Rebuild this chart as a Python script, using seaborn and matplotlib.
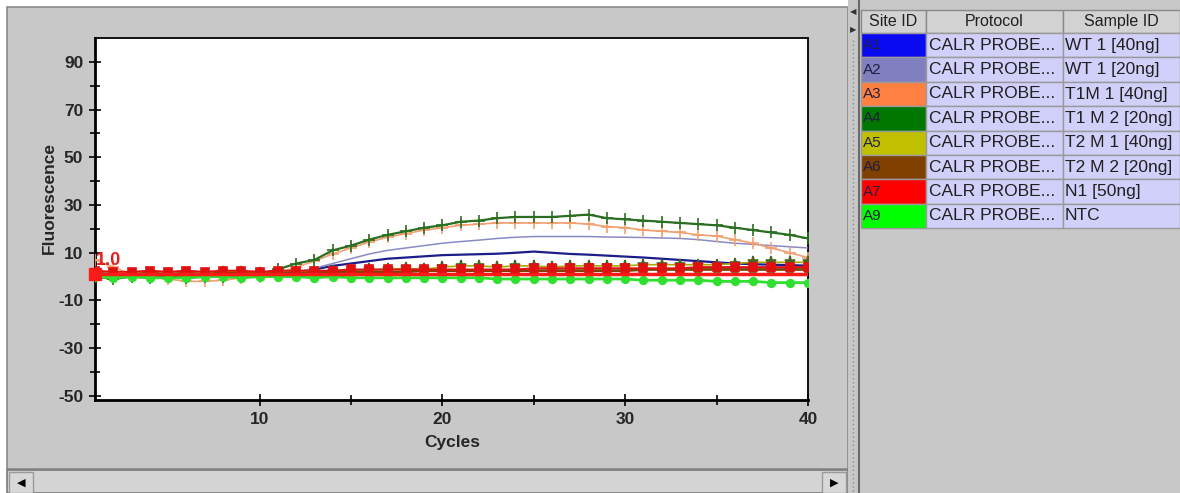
import numpy as np
import pandas as pd
import matplotlib
matplotlib.use("Agg")
import matplotlib.pyplot as plt
from matplotlib.patches import Rectangle
import seaborn as sns

sns.set_theme(style="white")
plt.rcParams['font.family'] = ['Liberation Sans', 'DejaVu Sans']
plt.rcParams['axes.unicode_minus'] = False

# ---------------- data ----------------
cycles = list(range(1, 41))

a1_wt40 = [0, 0, 0.5, 0, 0, 0, 0, 0, 0, 0.5, 0.5, 1, 3, 4.5, 5.5, 6.5, 7.5, 8, 8.5, 9,
           9.2, 9.4, 9.6, 10, 10.5, 10, 9.5, 9.2, 8.8, 8.4, 8, 7.5, 7, 6.5, 6, 5.5, 5.2, 5, 4.8, 4.6]
a2_wt20 = [0, 0, 0, 0, 0, 0, 0, 0, 0.5, 0.5, 1, 2, 3.5, 5.5, 7.5, 9.5, 11, 12, 13, 14,
           14.7, 15.3, 16, 16.5, 16.8, 16.8, 16.8, 16.8, 16.6, 16.5, 16.4, 16.2, 16, 15.5, 14.7, 14, 13.5, 13, 12.5, 12]
a3_t1m1 = [7, 4, 1, 0, -1, -2, -2, -1.5, -0.5, 0, 1.5, 4, 6.5, 9.5, 12, 14.5, 16.5, 18, 19.5, 20.5,
           21.5, 22, 22.5, 22.5, 22.5, 22.5, 22.5, 22, 21, 20.5, 19.5, 19, 18.5, 17.5, 17, 15.5, 14, 12, 10, 8]
a4_t1m2 = [0, -1, 0, -0.5, 0, -0.5, 0, 0, 0.5, 1, 3, 5.5, 7, 11, 13, 15.5, 17.5, 19, 20.5, 21.5,
           23, 23.5, 24.5, 25, 25, 25, 25.5, 26, 24.5, 24, 23.5, 23, 22.5, 22, 21.5, 20.5, 19.5, 18.5, 17.5, 16]
a5_t2m1 = [2, 0, 1, 1.5, 1, 1.5, 1, 2, 2, 1.5, 2, 2, 2, 2.5, 2.5, 3, 3, 3.5, 3, 4,
           4.5, 4.5, 4, 4.5, 4.5, 4, 4.5, 4.5, 4.5, 4.5, 5, 5, 5, 5, 5, 5.5, 6, 6, 6, 6]
a6_t2m2 = [1.5, 1, 1, 1.5, 1, 1.5, 1, 1.5, 1.5, 1, 1.5, 1.5, 1.5, 2, 2, 2, 2, 2, 2.5, 2.5,
           2.5, 2.5, 2.5, 2.5, 2.5, 2.5, 2.5, 2.5, 2.5, 2.5, 3, 3, 3, 3, 3, 3, 3, 3, 3, 3]
a7_n1 = [2.5, 2, 2, 2.5, 2, 2.5, 2, 2.5, 2.5, 2, 2.5, 2.5, 2.5, 2.5, 3, 3, 3, 3, 3, 3,
         3, 3, 3, 3, 3.5, 3.5, 3.5, 3.5, 3.5, 3.5, 3.5, 3.5, 3.5, 4, 4, 4, 4, 4, 4, 4]
a9_ntc = [0, -0.5, 0, -0.5, -0.5, -0.5, 0, 0, -0.5, 0, 0, 0, -0.5, 0, -0.5, -0.5, -0.5, -0.5, -0.5, -0.5,
          -0.5, -0.5, -1, -1, -1, -1, -1, -1, -1, -1, -1.5, -1.5, -1.5, -1.5, -2, -2, -2, -2.5, -2.5, -2.5]

threshold = 1.0

site_ids = ["A1", "A2", "A3", "A4", "A5", "A6", "A7", "A9"]
protocols = ["CALR PROBE..."] * 8
sample_ids = ["WT 1 [40ng]", "WT 1 [20ng]", "T1M 1 [40ng]", "T1 M 2 [20ng]",
              "T2 M 1 [40ng]", "T2 M 2 [20ng]", "N1 [50ng]", "NTC"]
site_colors = ["#0a0af0", "#8080c0", "#ff8040", "#007800", "#c0c000", "#804000", "#ff0000", "#00ff00"]
line_colors = ["#1c1c8a", "#8a8ac4", "#f2a070", "#2a6e22", "#a8a800", "#804000", "#e01010", "#30e030"]
series = [a1_wt40, a2_wt20, a3_t1m1, a4_t1m2, a5_t2m1, a6_t2m2, a7_n1, a9_ntc]

col_headers = ["Site ID", "Protocol", "Sample ID"]
x_ticks = [10, 20, 30, 40]
y_ticks = [-50, -30, -10, 10, 30, 50, 70, 90]

# ---------------- figure ----------------
W, H = 1180, 493
fig = plt.figure(figsize=(W / 100, H / 100), dpi=100, facecolor="white")

# background "window" drawing in pixel coordinates
bg = fig.add_axes([0, 0, 1, 1])
bg.set_xlim(0, W)
bg.set_ylim(H, 0)
bg.axis("off")
gray = "#c8c8c8"
bg.add_patch(Rectangle((7, 7), 841, 462, facecolor=gray, edgecolor="#8a8a8a", lw=1.2))
# scrollbar
bg.add_patch(Rectangle((7, 470), 841, 23, facecolor="#d4d4d4", edgecolor="#7a7a7a", lw=1.2))
bg.add_patch(Rectangle((9, 472), 24, 21, facecolor="#d8d8d8", edgecolor="#9a9a9a", lw=1))
bg.add_patch(Rectangle((822, 472), 24, 21, facecolor="#d8d8d8", edgecolor="#9a9a9a", lw=1))
bg.text(21, 483, "◀", ha="center", va="center", fontsize=8, color="black", family="DejaVu Sans")
bg.text(834, 483, "▶", ha="center", va="center", fontsize=8, color="black", family="DejaVu Sans")
# splitter
bg.add_patch(Rectangle((848, 0), 12, H, facecolor=gray, edgecolor="none"))
bg.plot([853, 853], [40, H], color="#8a8a8a", lw=1, ls=(0, (1, 2)))
bg.text(853, 12, "◀", ha="center", va="center", fontsize=6, color="#333333", family="DejaVu Sans")
bg.text(853, 30, "▶", ha="center", va="center", fontsize=6, color="#333333", family="DejaVu Sans")
# right panel
bg.add_patch(Rectangle((859, 0), W - 859, H, facecolor=gray, edgecolor="none"))
bg.plot([859, 859], [0, H], color="#6a6a6a", lw=1.5)

# table
col_x = [861, 926, 1063, 1180]
top, head_h, row_h = 10, 23, 24.4
for j, name in enumerate(col_headers):
    bg.add_patch(Rectangle((col_x[j], top), col_x[j + 1] - col_x[j], head_h,
                           facecolor="#d2d2d2", edgecolor="#8a8a8a", lw=1))
    bg.text((col_x[j] + col_x[j + 1]) / 2, top + head_h / 2, name, ha="center", va="center",
            fontsize=11.5, color="#202020")
for i, (sid, prot, samp, c) in enumerate(zip(site_ids, protocols, sample_ids, site_colors)):
    y0 = top + head_h + i * row_h
    bg.add_patch(Rectangle((col_x[0], y0), col_x[1] - col_x[0], row_h, facecolor=c,
                           edgecolor="#9a9a9a", lw=1))
    for j in (1, 2):
        bg.add_patch(Rectangle((col_x[j], y0), col_x[j + 1] - col_x[j], row_h,
                               facecolor="#d0d0fa", edgecolor="#9a9a9a", lw=1))
    bg.text(col_x[0] + 2, y0 + row_h / 2, sid, ha="left", va="center", fontsize=11, color="#202040")
    bg.text(col_x[1] + 3, y0 + row_h / 2, prot, ha="left", va="center", fontsize=12.5, color="#202020")
    bg.text(col_x[2] + 2, y0 + row_h / 2, samp, ha="left", va="center", fontsize=12.5, color="#202020")

# ---------------- chart ----------------
left, right, ptop, pbot = 95, 808, 38, 400
ax = fig.add_axes([left / W, 1 - pbot / H, (right - left) / W, (pbot - ptop) / H])
ax.set_facecolor("white")

styles = [
    dict(marker=None, lw=1.6, ms=0),
    dict(marker=None, lw=1.1, ms=0),
    dict(marker="+", lw=1.2, ms=9),
    dict(marker="+", lw=1.6, ms=9),
    dict(marker="*", lw=1.2, ms=8),
    dict(marker="s", lw=2.0, ms=4),
    dict(marker="s", lw=1.4, ms=6),
    dict(marker="o", lw=2.0, ms=5.5),
]
for k in [7, 5, 4, 6, 1, 0, 2, 3]:
    df = pd.DataFrame({"Cycles": cycles, "Fluorescence": series[k]})
    st = styles[k]
    mcol = line_colors[k]
    if k == 4:
        mcol = "#4a6420"
    sns.lineplot(data=df, x="Cycles", y="Fluorescence", ax=ax, color=line_colors[k],
                 lw=st["lw"], marker=st["marker"], markersize=st["ms"],
                 markeredgecolor=mcol, markerfacecolor=mcol, markeredgewidth=1.2,
                 zorder=3 + k)

ax.axhline(threshold, color="#ff1a1a", lw=2.5, zorder=20)
ax.plot([1], [threshold], marker="s", color="#ff1a1a", ms=8, clip_on=False, zorder=21)
ax.text(1.05, threshold + 2.2, f"{threshold:.1f}", color="#e02020", fontsize=13,
        fontweight="bold", ha="left", va="bottom", zorder=22)

ax.set_xlim(1, 40)
ax.set_ylim(-51.7, 100)
ax.set_xticks(x_ticks)
ax.set_xticks([15, 25, 35], minor=True)
ax.set_yticks(y_ticks)
ax.set_yticks([-40, -20, 0, 20, 40, 60, 80], minor=True)
ax.tick_params(axis="both", which="major", direction="inout", length=9, width=1.2,
               color="black", labelsize=12.5, pad=4, left=True, bottom=True)
ax.tick_params(axis="both", which="minor", direction="inout", length=7, width=1.2,
               color="black", left=True, bottom=True)
for lab in ax.get_xticklabels() + ax.get_yticklabels():
    lab.set_fontweight("bold")
for s in ax.spines.values():
    s.set_color("black")
    s.set_linewidth(1.3)
ax.spines["left"].set_linewidth(2)
ax.spines["bottom"].set_linewidth(2)
ax.set_xlabel("")
ax.set_ylabel("")
fig.text(452 / W, 1 - 443 / H, "Cycles", ha="center", va="center", fontsize=12.5, fontweight="bold")
fig.text(49 / W, 1 - 198 / H, "Fluorescence", ha="center", va="center", rotation=90,
         fontsize=12.5, fontweight="bold")
ax.grid(False)

fig.savefig("out.png", dpi=100, facecolor=fig.get_facecolor())
